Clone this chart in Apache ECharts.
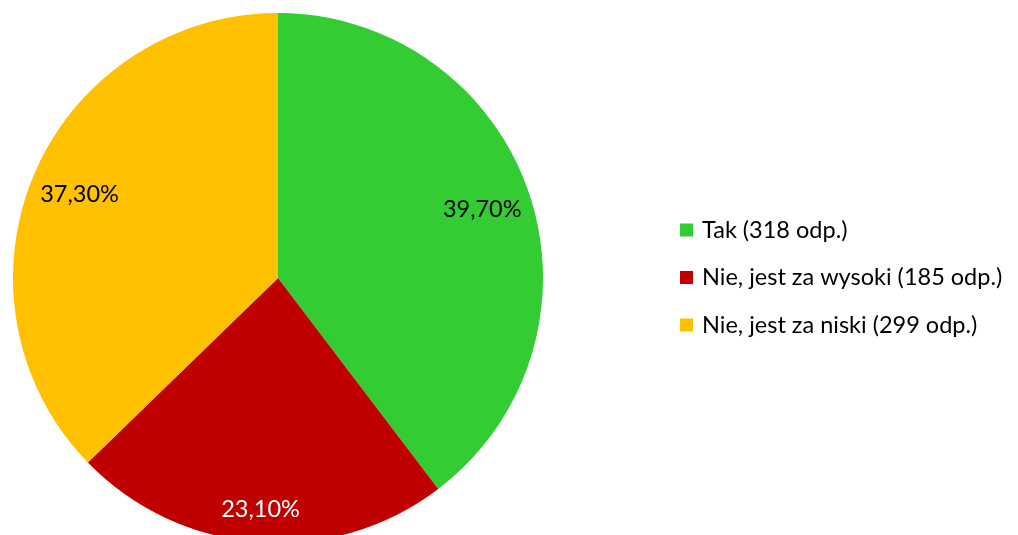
<!DOCTYPE html>
<html>
<head>
<meta charset="utf-8">
<script src="https://cdn.jsdelivr.net/npm/echarts@6/dist/echarts.min.js"></script>
<style>
  html, body { margin: 0; padding: 0; background: #fff; }
  #chart { width: 1018px; height: 535px; }
</style>
</head>
<body>
<div id="chart"></div>
<script>
const names = ["Tak (318 odp.)", "Nie, jest za wysoki (185 odp.)", "Nie, jest za niski (299 odp.)"];
const shares = [39.7, 23.1, 37.3];
const colors = ["#33CC33", "#C00000", "#FFC000"];
const labelColors = ["#000000", "#ffffff", "#000000"];

const font = "Lato, 'Open Sans', sans-serif";
const myChart = echarts.init(document.getElementById("chart"));

const pieData = names.map((n, i) => ({ name: n, value: shares[i], itemStyle: { color: colors[i] } }));

// overlay rings only used to place the labels further out than the middle of the radius
function labelRing(showIdx) {
  return names.map((n, i) => ({
    name: n,
    value: shares[i],
    itemStyle: { color: "transparent" },
    label: { show: showIdx.includes(i), color: labelColors[i] }
  }));
}

const labelStyle = {
  position: "inside",
  fontFamily: font,
  fontSize: 23.5,
  formatter: p => p.value.toFixed(2).replace(".", ",") + "%"
};

option = {
  animation: false,
  legend: {
    orient: "vertical",
    left: 680,
    top: 218,
    padding: 0,
    itemWidth: 13,
    itemHeight: 13,
    itemGap: 23.5,
    icon: "rect",
    data: names,
    textStyle: { fontFamily: font, fontSize: 23.5, lineHeight: 24, color: "#000", padding: [0, 0, 0, 4] }
  },
  series: [
    {
      type: "pie",
      center: [278, 278],
      radius: [0, 265],
      startAngle: 90,
      clockwise: true,
      label: { show: false },
      labelLine: { show: false },
      emphasis: { disabled: true },
      itemStyle: { borderWidth: 0 },
      data: pieData
    },
    {
      type: "pie",
      center: [278, 278],
      radius: [160, 265],
      startAngle: 90,
      silent: true,
      legendHoverLink: false,
      label: labelStyle,
      labelLine: { show: false },
      data: labelRing([0, 2])
    },
    {
      type: "pie",
      center: [278, 278],
      radius: [193, 265],
      startAngle: 90,
      silent: true,
      legendHoverLink: false,
      label: labelStyle,
      labelLine: { show: false },
      data: labelRing([1])
    }
  ]
};
myChart.setOption(option);
</script>
</body>
</html>
